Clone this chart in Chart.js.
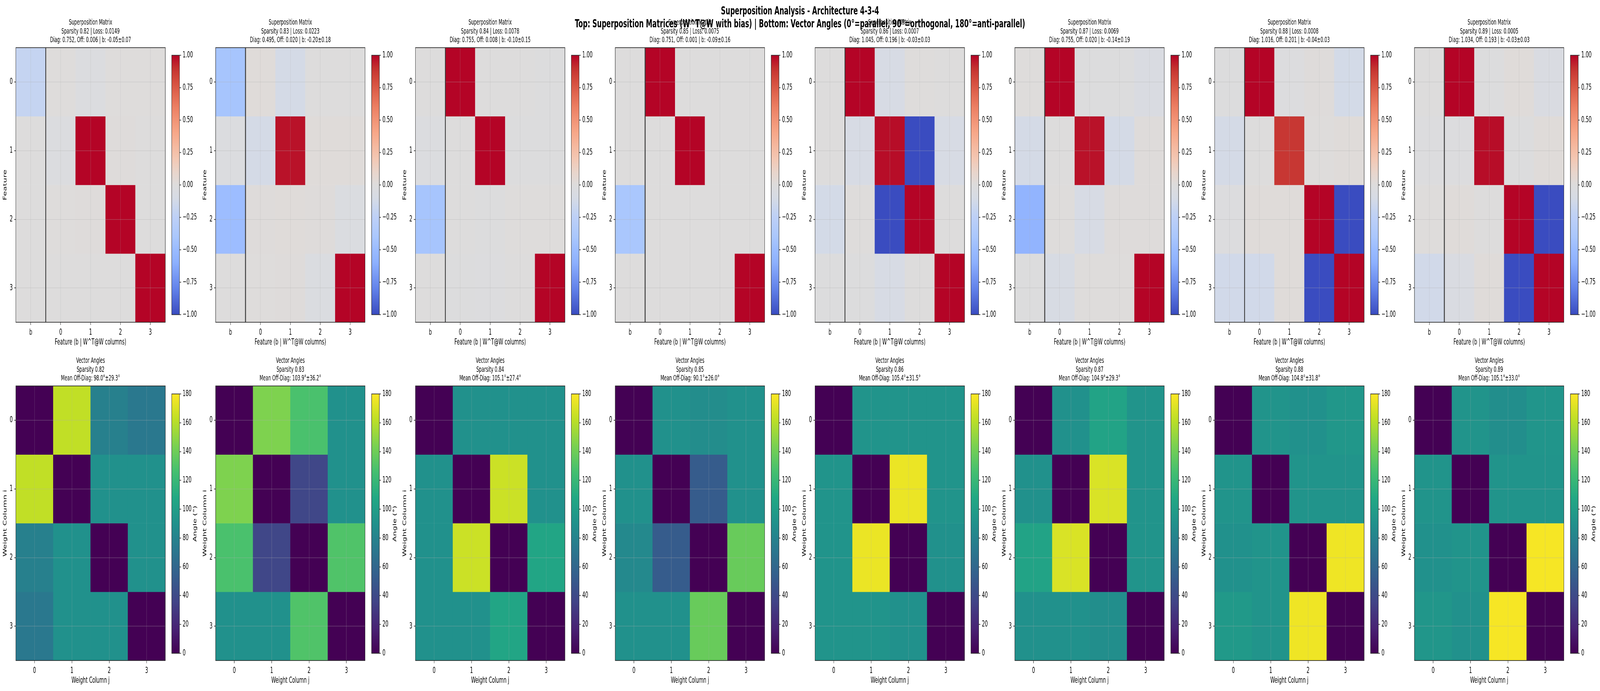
<!DOCTYPE html>
<html>
<head>
<meta charset="utf-8">
<title>Superposition Analysis</title>
<script src="https://cdn.jsdelivr.net/npm/chart.js@4"></script>
<style>
    html, body { margin: 0; padding: 0; background: #fff; overflow: hidden; width: 100%; height: 100%; }
    #figure { position: absolute; left: 0; top: 0; width: 7183px; height: 1769px; transform-origin: 0 0; }
    canvas { position: absolute; }
    #supTitle {
        position: absolute; left: 0; top: 11px; width: 7183px; z-index: 5;
        text-align: center; font: bold 29.2px/32.5px "DejaVu Sans"; color: #000; white-space: pre;
    }
</style>
</head>
<body>
<div id="figure">
<div id="supTitle">Superposition Analysis - Architecture 4-3-4
Top: Superposition Matrices (W^T@W with bias) | Bottom: Vector Angles (0°=parallel, 90°=orthogonal, 180°=anti-parallel)</div>
</div>
<script>
var sparsities = ['0.82', '0.83', '0.84', '0.85', '0.86', '0.87', '0.88', '0.89'];
var losses = ['0.0149', '0.0223', '0.0078', '0.0075', '0.0007', '0.0069', '0.0008', '0.0005'];
var diagMeans = ['0.752', '0.495', '0.755', '0.751', '1.045', '0.755', '1.016', '1.034'];
var offMeans = ['0.006', '0.020', '0.008', '0.001', '0.196', '0.020', '0.201', '0.193'];
var biasTexts = ['-0.05±0.07', '-0.20±0.18', '-0.10±0.15', '-0.09±0.16', '-0.03±0.03', '-0.14±0.19', '-0.04±0.03', '-0.03±0.03'];
var angleTexts = ['98.0°±29.3°', '103.9°±36.2°', '105.1°±27.4°', '90.1°±26.0°', '105.4°±31.5°', '104.9°±29.3°', '104.8°±31.8°', '105.1°±33.0°'];

var featureLabels = ['b', '0', '1', '2', '3'];
var columnLabels = ['0', '1', '2', '3'];
var rowTicks = [0, 1, 2, 3];
var supBarTicks = [-1, -0.75, -0.5, -0.25, 0, 0.25, 0.5, 0.75, 1];
var angleBarTicks = [0, 20, 40, 60, 80, 100, 120, 140, 160, 180];

// W^T@W with the bias column first, one list per sparsity
var sup82 = [[-0.20, 0.005, -0.03, 0.005, 0.005], [0, -0.03, 1, 0.012, 0], [0, 0.005, 0.012, 1, 0], [0, 0, 0, 0, 1]];
var sup83 = [[-0.42, 0.02, -0.11, 0, 0], [-0.03, -0.11, 0.97, 0.02, 0.02], [-0.48, 0.012, 0.02, 0.012, -0.04], [0, 0.005, 0.012, -0.04, 1]];
var sup84 = [[0, 1, 0, 0, -0.01], [-0.03, 0, 1, -0.01, -0.01], [-0.42, 0, -0.01, 0.005, 0.005], [0, -0.01, -0.02, 0, 1]];
var sup85 = [[0, 1, 0, 0, 0], [0, 0, 1, 0, 0], [-0.40, 0, 0, 0, 0], [0, 0, 0, 0, 1]];
var sup86 = [[0, 1, -0.09, 0.005, 0], [0, -0.09, 0.98, -1, -0.09], [-0.12, 0.005, -1, 1, 0], [-0.01, -0.01, -0.09, 0, 1]];
var sup87 = [[0.005, 1, -0.01, -0.01, -0.06], [-0.11, 0, 0.97, -0.11, 0.012], [-0.56, 0.005, -0.09, 0.012, 0.012], [-0.01, -0.08, 0.005, 0.005, 1]];
var sup88 = [[-0.01, 1, -0.02, 0.012, -0.12], [-0.11, 0, 0.88, 0.005, 0.02], [-0.02, 0.02, 0.02, 1, -1], [-0.13, -0.13, 0.02, -1, 1]];
var sup89 = [[0, 1, -0.01, 0.02, -0.06], [-0.02, -0.02, 0.98, -0.01, 0.02], [0.005, 0.02, 0, 1, -1], [-0.13, -0.06, 0.02, -1, 1]];
var supMatrices = [sup82, sup83, sup84, sup85, sup86, sup87, sup88, sup89];

// angles in degrees between weight columns
var ang82 = [[0, 163, 78, 72], [163, 0, 90, 90], [78, 90, 0, 90], [72, 90, 90, 0]];
var ang83 = [[0, 145, 128, 90], [145, 0, 38, 90], [128, 38, 0, 130], [90, 90, 130, 0]];
var ang84 = [[0, 90, 90, 90], [90, 0, 166, 90], [90, 166, 0, 106], [90, 90, 106, 0]];
var ang85 = [[0, 90, 87, 90], [90, 0, 52, 90], [84, 52, 0, 138], [90, 90, 138, 0]];
var ang86 = [[0, 92, 92, 92], [92, 0, 175, 92], [92, 175, 0, 90], [92, 92, 90, 0]];
var ang87 = [[0, 90, 104, 92], [90, 0, 170, 92], [104, 170, 0, 92], [90, 90, 88, 0]];
var ang88 = [[0, 92, 90, 95], [92, 0, 92, 92], [90, 92, 0, 176], [96, 92, 176, 0]];
var ang89 = [[0, 92, 88, 93], [92, 0, 92, 92], [90, 92, 0, 178], [94, 90, 178, 0]];
var angleMatrices = [ang82, ang83, ang84, ang85, ang86, ang87, ang88, ang89];

// colormap anchors as [fraction, r, g, b]
var coolwarm = [
    [0, 58, 76, 192], [0.1, 98, 130, 234], [0.2, 141, 176, 254], [0.25, 154, 187, 255], [0.3, 170, 199, 253],
    [0.375, 189, 208, 247], [0.4, 197, 212, 241], [0.45, 214, 219, 229], [0.5, 221, 220, 220], [0.55, 233, 213, 203],
    [0.6, 243, 200, 180], [0.7, 247, 168, 137], [0.8, 236, 127, 99], [0.85, 225, 103, 80], [0.9, 212, 77, 62],
    [0.95, 196, 50, 48], [1, 180, 4, 38]
];
var viridis = [
    [0, 68, 1, 84], [0.1, 72, 36, 117], [0.2, 65, 68, 135], [0.3, 53, 95, 141], [0.4, 42, 120, 142], [0.5, 33, 145, 140],
    [0.6, 34, 168, 132], [0.7, 68, 191, 112], [0.8, 122, 209, 81], [0.9, 189, 223, 38], [1, 253, 231, 37]
];

var panelLefts = [71, 968, 1865, 2762, 3659, 4556, 5453, 6350];
var fontFamily = '"DejaVu Sans"';
var darkLine = '#262626';
var gridColor = 'rgba(176, 176, 176, 0.3)';
var figure = document.getElementById('figure');

// the window can come out narrower than the figure, so squeeze to fit
figure.style.transform = 'scaleX(' + (window.innerWidth / 7183) + ')';

Chart.defaults.font.family = fontFamily;
Chart.defaults.color = '#000';

function colorAt(map, frac) {
    var f = Math.min(1, Math.max(0, frac));
    for (var i = 1; i < map.length; i++) {
        if (f <= map[i][0]) {
            var a = map[i - 1], b = map[i];
            var t = (f - a[0]) / (b[0] - a[0]);
            return 'rgb(' + Math.round(a[1] + (b[1] - a[1]) * t) + ',' + Math.round(a[2] + (b[2] - a[2]) * t) + ',' + Math.round(a[3] + (b[3] - a[3]) * t) + ')';
        }
    }
    return 'rgb(' + map[map.length - 1].slice(1).join(',') + ')';
}

function addCanvas(left, top, width, height) {
    var c = document.createElement('canvas');
    c.width = width;
    c.height = height;
    c.style.left = left + 'px';
    c.style.top = top + 'px';
    c.style.width = width + 'px';
    c.style.height = height + 'px';
    figure.appendChild(c);
    return c;
}

// box round the plot area, plus the bias divider when the chart asks for it
var framePlugin = {
    id: 'frame',
    afterDraw: function (chart, args, opts) {
        var a = chart.chartArea;
        var ctx = chart.ctx;
        ctx.save();
        if (opts.divider) {
            var x = chart.scales.x;
            var xp = (x.getPixelForValue(0) + x.getPixelForValue(1)) / 2;
            ctx.strokeStyle = '#3c3c3c';
            ctx.lineWidth = 4;
            ctx.beginPath();
            ctx.moveTo(xp, a.top);
            ctx.lineTo(xp, a.bottom);
            ctx.stroke();
        }
        ctx.strokeStyle = darkLine;
        ctx.lineWidth = 1.7;
        ctx.strokeRect(a.left, a.top, a.right - a.left, a.bottom - a.top);
        if (opts.sideLabel) {
            ctx.fillStyle = '#000';
            ctx.font = '20.8px ' + fontFamily;
            ctx.textAlign = 'center';
            ctx.textBaseline = 'middle';
            ctx.translate(a.right + opts.sideOffset, (a.top + a.bottom) / 2);
            ctx.rotate(-Math.PI / 2);
            ctx.fillText(opts.sideLabel, 0, 0);
        }
        ctx.restore();
    }
};

function heatmap(left, top, height, xLabels, matrix, map, toFrac, titleLines, xTitle, yTitle, divider) {
    var plotWidth = 671;
    var yBox = 71;
    var xBox = 68;
    var titleBox = 75;
    var canvas = addCanvas(left - yBox, top - titleBox, yBox + plotWidth + 4, titleBox + height + xBox);
    var datasets = [];
    matrix.forEach(function (row, r) {
        datasets.push({
            data: row.map(function () { return [r - 0.5, r + 0.5]; }),
            backgroundColor: row.map(function (v) { return colorAt(map, toFrac(v)); }),
            borderWidth: 0,
            grouped: false,
            barPercentage: 1,
            categoryPercentage: 1
        });
    });
    return new Chart(canvas, {
        type: 'bar',
        data: { labels: xLabels, datasets: datasets },
        plugins: [framePlugin],
        options: {
            responsive: false,
            animation: false,
            devicePixelRatio: 1,
            layout: { padding: { left: 0, top: 0, right: 4, bottom: 0 } },
            plugins: {
                legend: { display: false },
                tooltip: { enabled: false },
                frame: { divider: divider },
                title: {
                    display: true,
                    text: titleLines,
                    fullSize: false,
                    color: '#000',
                    font: { size: 18.75, weight: 'normal', lineHeight: 1.2 },
                    padding: { top: 0, bottom: 7.5 }
                }
            },
            scales: {
                x: {
                    grid: { z: 1, color: gridColor, lineWidth: 1.67, tickLength: 7, tickColor: darkLine, tickWidth: 1.67, offset: false },
                    border: { display: false },
                    ticks: { color: '#000', padding: 7, font: { size: 20.8 }, maxRotation: 0 },
                    title: { display: true, text: xTitle, color: '#000', font: { size: 20.8, lineHeight: 1.2 }, padding: 4 },
                    afterFit: function (s) { s.height = xBox; }
                },
                y: {
                    reverse: true,
                    min: -0.5,
                    max: 3.5,
                    afterBuildTicks: function (s) {
                        s.ticks = rowTicks.map(function (v) { return { value: v }; });
                    },
                    grid: { z: 1, color: gridColor, lineWidth: 1.67, tickLength: 7, tickColor: darkLine, tickWidth: 1.67 },
                    border: { display: false },
                    ticks: { color: '#000', padding: 7, font: { size: 20.8 }, callback: function (v) { return String(v); } },
                    title: { display: true, text: yTitle, color: '#000', font: { size: 20.8, lineHeight: 1.2 }, padding: 11 },
                    afterFit: function (s) { s.width = yBox; }
                }
            }
        }
    });
}

function colorbar(left, top, height, map, min, max, tickValues, tickFormat, sideLabel) {
    var pad = 14;
    var barWidth = 35;
    var axisBox = 130;
    var canvas = addCanvas(left - pad, top - pad, pad + barWidth + axisBox, height + pad * 2);
    return new Chart(canvas, {
        type: 'bar',
        data: {
            labels: [''],
            datasets: [{
                data: [[min, max]],
                borderWidth: 0,
                barPercentage: 1,
                categoryPercentage: 1,
                backgroundColor: function (ctx) {
                    var area = ctx.chart.chartArea;
                    if (!area) {
                        return '#ddd';
                    }
                    var g = ctx.chart.ctx.createLinearGradient(0, area.bottom, 0, area.top);
                    map.forEach(function (s) {
                        g.addColorStop(s[0], 'rgb(' + s[1] + ',' + s[2] + ',' + s[3] + ')');
                    });
                    return g;
                }
            }]
        },
        plugins: [framePlugin],
        options: {
            responsive: false,
            animation: false,
            devicePixelRatio: 1,
            layout: { padding: { left: pad, top: pad, right: 0, bottom: pad } },
            plugins: {
                legend: { display: false },
                tooltip: { enabled: false },
                frame: { sideLabel: sideLabel, sideOffset: 71 }
            },
            scales: {
                x: { display: false },
                y: {
                    position: 'right',
                    min: min,
                    max: max,
                    afterBuildTicks: function (s) {
                        s.ticks = tickValues.map(function (v) { return { value: v }; });
                    },
                    grid: { drawOnChartArea: false, tickLength: 7, tickColor: darkLine, tickWidth: 1.67 },
                    border: { display: false },
                    ticks: { color: '#000', padding: 7, font: { size: 20.8 }, callback: tickFormat },
                    afterFit: function (s) { s.width = axisBox; }
                }
            }
        }
    });
}

function supTick(v) {
    return (v < 0 ? '\u2212' : '') + Math.abs(v).toFixed(2);
}

function angleTick(v) {
    return String(v);
}

panelLefts.forEach(function (left, i) {
    heatmap(left, 122, 703, featureLabels, supMatrices[i], coolwarm,
        function (v) { return (v + 1) / 2; },
        ['Superposition Matrix',
            'Sparsity ' + sparsities[i] + ' | Loss: ' + losses[i],
            'Diag: ' + diagMeans[i] + ', Off: ' + offMeans[i] + ' | b: ' + biasTexts[i]],
        'Feature (b | W^T@W columns)', 'Feature', true);
    colorbar(left + 699.5, 136, 675, coolwarm, -1, 1, supBarTicks, supTick, null);

    heatmap(left, 988, 703, columnLabels, angleMatrices[i], viridis,
        function (v) { return v / 180; },
        ['Vector Angles', 'Sparsity ' + sparsities[i], 'Mean Off-Diag: ' + angleTexts[i]],
        'Weight Column j', 'Weight Column i', false);
    colorbar(left + 699.5, 1003, 675, viridis, 0, 180, angleBarTicks, angleTick, 'Angle (°)');
});
</script>
</body>
</html>
